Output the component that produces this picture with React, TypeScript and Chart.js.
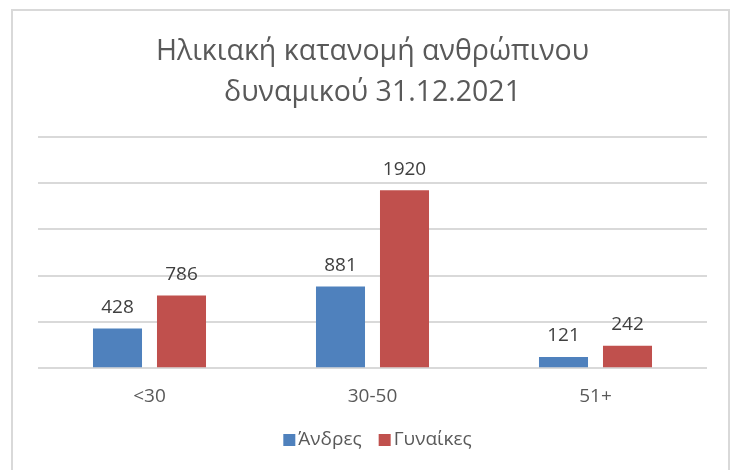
import React, { useEffect, useRef } from "react";
import { Chart, registerables } from "chart.js";

Chart.register(...registerables);

const categories = ["<30", "30-50", "51+"];
const men = [428, 881, 121];
const women = [786, 1920, 242];
const seriesNames = ["Άνδρες", "Γυναίκες"];
const seriesColors = ["#4f81bd", "#c0504d"];
const titleLines = ["Ηλικιακή κατανομή ανθρώπινου", "δυναμικού 31.12.2021"];

const FONT = "'Open Sans', 'Noto Sans', sans-serif";

const dataLabels = {
  id: "dataLabels",
  afterDatasetsDraw(chart: any) {
    const ctx = chart.ctx;
    ctx.save();
    ctx.font = `19px ${FONT}`;
    ctx.fillStyle = "#404040";
    ctx.textAlign = "center";
    ctx.textBaseline = "alphabetic";
    chart.data.datasets.forEach((ds: any, i: number) => {
      const meta = chart.getDatasetMeta(i);
      meta.data.forEach((el: any, j: number) => {
        ctx.fillText(String(ds.data[j]), el.x, el.y - 15.5);
      });
    });
    ctx.restore();
  },
};

const customLegend = {
  id: "customLegend",
  afterDraw(chart: any) {
    const ctx = chart.ctx;
    ctx.save();
    ctx.font = `19px ${FONT}`;
    ctx.textBaseline = "middle";
    ctx.textAlign = "left";
    const box = 12;
    const gap = 3;
    const spacing = 17;
    const items = chart.data.datasets.map((ds: any) => ({
      label: ds.label,
      color: ds.backgroundColor,
      w: ctx.measureText(ds.label).width,
    }));
    const total = items.reduce((s: number, it: any) => s + box + gap + it.w, 0) + spacing * (items.length - 1);
    let x = chart.width / 2 + 9 - total / 2;
    const y = 440;
    items.forEach((it: any) => {
      ctx.fillStyle = it.color;
      ctx.fillRect(x, y - box / 2, box, box);
      x += box + gap;
      ctx.fillStyle = "#595959";
      ctx.fillText(it.label, x, y);
      x += it.w + spacing;
    });
    ctx.restore();
  },
};

export default function App() {
  const ref = useRef<HTMLCanvasElement>(null);
  useEffect(() => {
    if (!ref.current) return;
    const chart = new Chart(ref.current, {
      type: "bar",
      data: {
        labels: categories,
        datasets: [
          {
            label: seriesNames[0],
            data: men,
            backgroundColor: seriesColors[0],
            categoryPercentage: 0.574,
            barPercentage: 0.766,
          },
          {
            label: seriesNames[1],
            data: women,
            backgroundColor: seriesColors[1],
            categoryPercentage: 0.574,
            barPercentage: 0.766,
          },
        ],
      },
      options: {
        animation: false,
        responsive: false,
        layout: { padding: { left: 38, right: 30, top: 31, bottom: 45 } },
        plugins: {
          tooltip: { enabled: false },
          title: {
            display: true,
            text: titleLines,
            color: "#595959",
            font: { family: FONT, size: 28.5, weight: "normal", lineHeight: 1.45 },
            padding: { top: 0, bottom: 23 },
          },
          legend: { display: false },
        },
        scales: {
          x: {
            grid: { display: false, drawTicks: false },
            border: { display: false },
            ticks: { color: "#595959", font: { family: FONT, size: 19 }, padding: 17 },
          },
          y: {
            min: 0,
            max: 2500,
            ticks: { display: false, stepSize: 500 },
            border: { display: false },
            grid: { color: "#d9d9d9", lineWidth: 2, drawTicks: false },
          },
        },
      },
      plugins: [dataLabels, customLegend],
    });
    return () => chart.destroy();
  }, []);
  return (
    <div style={{ position: "absolute", left: 0, top: 0, width: 737, height: 470, background: "#fff", overflow: "hidden" }}>
      <div
        style={{
          position: "absolute",
          left: 11,
          top: 9,
          width: 719,
          height: 480,
          border: "2px solid #d9d9d9",
          boxSizing: "border-box",
        }}
      />
      <canvas ref={ref} width={737} height={470} style={{ position: "absolute", left: 0, top: 0 }} />
    </div>
  );
}
